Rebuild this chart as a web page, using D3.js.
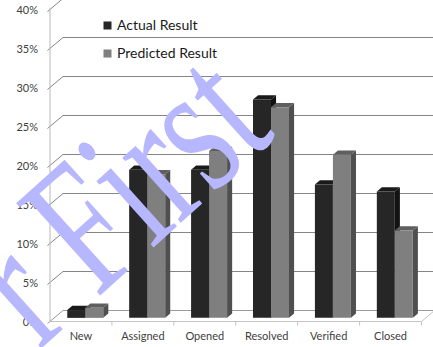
<!DOCTYPE html>
<html>
<head>
<meta charset="utf-8">
<script src="https://cdn.jsdelivr.net/npm/d3@7"></script>
<style>
  html, body { margin: 0; padding: 0; background: #fff; }
  svg { display: block; }
</style>
</head>
<body>
<script>
// Share of defects per lifecycle state, actual vs predicted (percent)
const categories = ["New", "Assigned", "Opened", "Resolved", "Verified", "Closed"];
const actualResult = [1.0, 19.0, 19.0, 28.0, 17.1, 16.2];
const predictedResult = [1.3, 18.4, 21.4, 27.0, 20.9, 11.2];
const seriesNames = ["Actual Result", "Predicted Result"];
const yTickValues = [0, 5, 10, 15, 20, 25, 30, 35, 40];
const yTickLabels = ["0%", "5%", "10%", "15%", "20%", "25%", "30%", "35%", "40%"];

const W = 433, H = 347;
const svg = d3.select("body").append("svg").attr("width", W).attr("height", H);

// 3-D projection: depth z in [0,1] shifts points right and up
const DX = 13, DY = 11;
const x = d3.scaleBand().domain(categories).range([50, 421.5]).padding(0);
const y = d3.scaleLinear().domain([0, 40]).range([321.5, 9.5]);
const inner = d3.scaleBand().domain(seriesNames).range([-18, 18]).padding(0);
const proj = (px, v, z) => [px + z * DX, y(v) - z * DY];

const faceColors = {
  "Actual Result": { front: "#262626", side: "#121212", top: "#1a1a1a" },
  "Predicted Result": { front: "#7f7f7f", side: "#4f4f4f", top: "#5f5f5f" }
};

// Gridlines: diagonal across the side wall, then horizontal on the back wall
const grid = svg.append("g").attr("fill", "none");
yTickValues.forEach(v => {
  const [bx, by] = proj(50, v, 1);
  grid.append("path")
    .attr("d", `M47.5,${y(v) + 2}L${bx},${by}L${W + 5},${by}`)
    .attr("stroke", v === 0 ? "#9a9a9a" : "#858585")
    .attr("stroke-width", 1);
});

// Floor front edge, right edge and category ticks
const floorY = y(0);
svg.append("path")
  .attr("d", `M50,${floorY}L421.5,${floorY}L${421.5 + DX},${floorY - DY}`)
  .attr("fill", "none").attr("stroke", "#c4c4c4");
const tickXs = categories.map(c => x(c)).concat([421.5]);
svg.append("g").selectAll("line").data(tickXs.slice(1)).join("line")
  .attr("x1", d => d).attr("x2", d => d)
  .attr("y1", floorY).attr("y2", floorY + 4)
  .attr("stroke", "#c4c4c4");

// Value axis line
svg.append("line")
  .attr("x1", 50).attr("x2", 50).attr("y1", y(40) - 2).attr("y2", floorY + 0.5)
  .attr("stroke", "#b8b8b8");

// Tick labels
svg.append("g").selectAll("text").data(yTickValues).join("text")
  .attr("x", 38).attr("y", d => y(d) + 4)
  .attr("text-anchor", "end")
  .attr("font-family", "Lato, 'Open Sans', sans-serif")
  .attr("font-size", 11)
  .attr("fill", "#404040")
  .text((d, i) => yTickLabels[i]);

svg.append("g").selectAll("text").data(categories).join("text")
  .attr("x", d => x(d) + x.bandwidth() / 2)
  .attr("y", 340)
  .attr("text-anchor", "middle")
  .attr("font-family", "Lato, 'Open Sans', sans-serif")
  .attr("font-size", 11)
  .attr("fill", "#404040")
  .text(d => d);

// Bars as extruded boxes
const Z0 = 0.33, Z1 = 0.72;
const barData = [];
categories.forEach((c, i) => {
  barData.push({ cat: c, series: seriesNames[0], value: actualResult[i] });
  barData.push({ cat: c, series: seriesNames[1], value: predictedResult[i] });
});
const poly = pts => "M" + pts.map(p => p.join(",")).join("L") + "Z";
const bars = svg.append("g");
barData.forEach(d => {
  const cx = x(d.cat) + x.bandwidth() / 2;
  const x0 = cx + inner(d.series), x1 = x0 + inner.bandwidth();
  const col = faceColors[d.series];
  const g = bars.append("g");
  g.append("path").attr("fill", col.side)
    .attr("d", poly([proj(x1, d.value, Z0), proj(x1, d.value, Z1), proj(x1, 0, Z1), proj(x1, 0, Z0)]));
  g.append("path").attr("fill", col.top)
    .attr("d", poly([proj(x0, d.value, Z0), proj(x1, d.value, Z0), proj(x1, d.value, Z1), proj(x0, d.value, Z1)]));
  g.append("path").attr("fill", col.front)
    .attr("d", poly([proj(x0, d.value, Z0), proj(x1, d.value, Z0), proj(x1, 0, Z0), proj(x0, 0, Z0)]));
});

// Legend
const legend = svg.append("g");
seriesNames.forEach((s, i) => {
  const ly = 21.5 + i * 28;
  legend.append("rect").attr("x", 103.5).attr("y", ly).attr("width", 8).attr("height", 8)
    .attr("fill", faceColors[s].front);
  legend.append("text").attr("x", 117).attr("y", ly + 8.5)
    .attr("font-family", "Lato, 'Open Sans', sans-serif")
    .attr("font-size", 14)
    .attr("fill", "#1a1a1a")
    .text(s);
});

// Diagonal watermark, drawn over the plot
svg.append("text")
  .attr("transform", "translate(39.2,350.2) rotate(-42) scale(0.78,1.12)")
  .attr("font-family", "'Liberation Serif', 'Times New Roman', serif")
  .attr("font-size", 170)
  .attr("fill", "#b7b7ff")
  .text("r First");
</script>
</body>
</html>
